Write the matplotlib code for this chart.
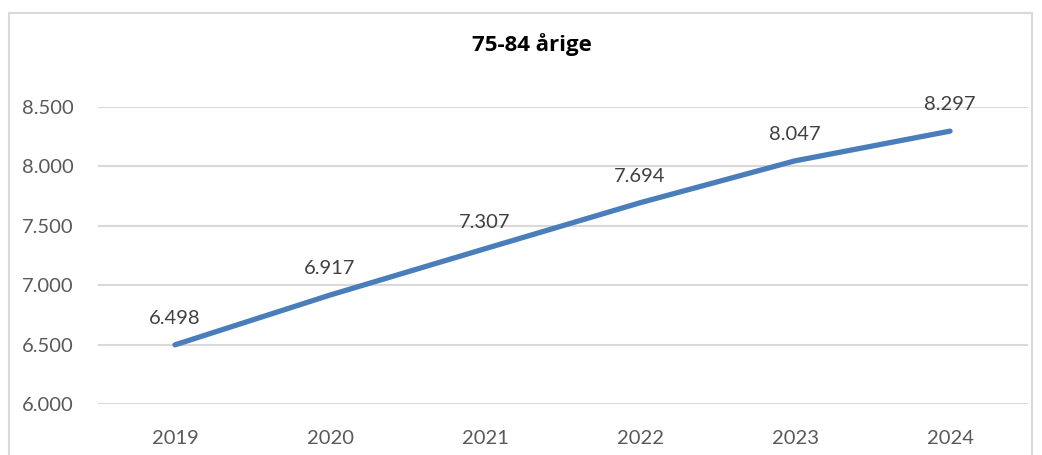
import matplotlib
matplotlib.use("Agg")
import matplotlib.pyplot as plt
from matplotlib.patches import Rectangle

years = ["2019", "2020", "2021", "2022", "2023", "2024"]
values = [6498, 6917, 7307, 7694, 8047, 8297]
yticks = [6000, 6500, 7000, 7500, 8000, 8500]


def fmt(v):
    return "{:,}".format(v).replace(",", ".")


plt.rcParams["font.family"] = ["Lato", "DejaVu Sans"]

fig = plt.figure(figsize=(10.42, 4.55), dpi=100)
ax = fig.add_axes([0.0936, 0.1121, 0.8925, 0.6527])

# chart border like the office chart frame
fig.patches.append(Rectangle((9 / 1042, -0.05), (1032 - 9) / 1042, 1.05 - 13 / 455,
                             transform=fig.transFigure, fill=False,
                             edgecolor="#D9D9D9", linewidth=1.5))

x = list(range(len(years)))
ax.plot(x, values, color="#4A7EBB", linewidth=3.8, solid_capstyle="round")

for xi, v in zip(x, values):
    ax.annotate(fmt(v), (xi, v), xytext=(0, 13), textcoords="offset points",
                ha="center", va="bottom", fontsize=14.5, color="#404040")

ax.set_xlim(-0.5, len(years) - 0.5)
ax.set_ylim(6000, 8500)
ax.set_xticks(x)
ax.set_xticklabels(years)
ax.set_yticks(yticks)
ax.set_yticklabels([fmt(t) for t in yticks])
ax.tick_params(axis="both", length=0, labelsize=14.5, labelcolor="#595959")
ax.tick_params(axis="x", pad=19)
ax.tick_params(axis="y", pad=17)
ax.grid(axis="y", color="#D9D9D9", linewidth=1.5)
ax.set_axisbelow(True)
for s in ax.spines.values():
    s.set_visible(False)

fig.text(532 / 1042, 1 - 45 / 455, "75-84 årige", ha="center", va="center",
         fontsize=16, fontweight="bold", color="#000000",
         family=["Open Sans", "DejaVu Sans"])

fig.savefig("out.png", dpi=100)
